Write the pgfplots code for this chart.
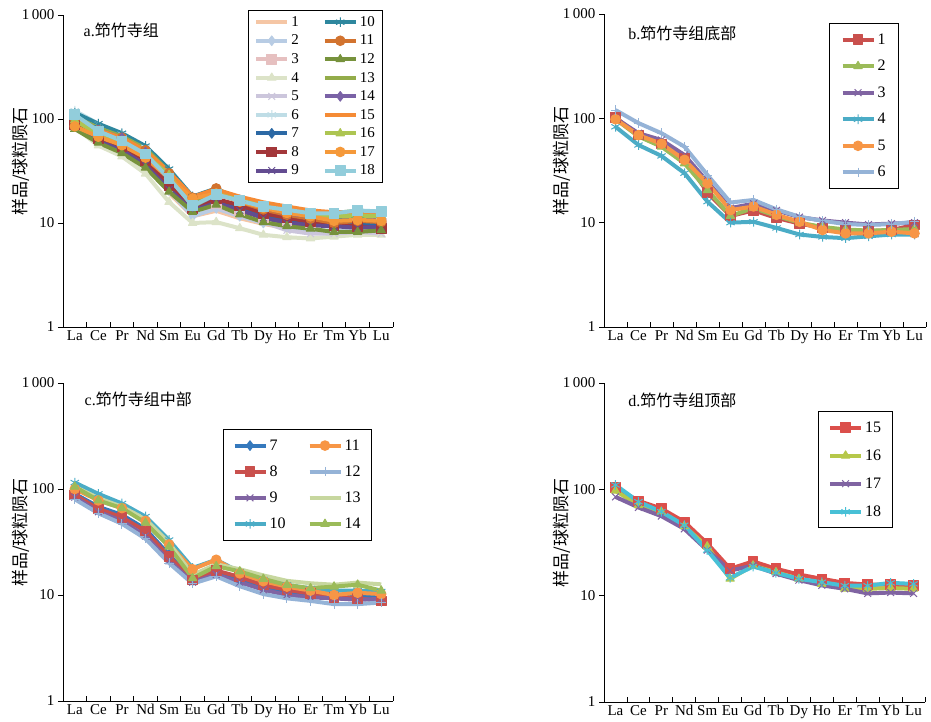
\documentclass[border=0pt]{standalone}
\usepackage{fontspec}
\setmainfont{Liberation Serif}
\newfontfamily\cjk{Noto Sans CJK SC}
\usepackage{pgfplots}
\usepackage{pgfplotstable}
\pgfplotsset{compat=1.18}
\usetikzlibrary{plotmarks}

% Samples 1-6 (bottom of formation)
\pgfplotstableread{
x el s1 s2 s3 s4 s5 s6
0 La 102 98 100 83 98 120
1 Ce 69 67 72 55.5 69 90
2 Pr 57 53.5 62 43.6 57 72
3 Nd 41.5 37 44.5 29.8 40 53.5
4 Sm 19.4 20.5 24.7 15.9 23.8 28.6
5 Eu 11.6 11.6 13.8 10.0 13.2 15.6
6 Gd 13.1 13.8 15.2 10.2 14.3 16.5
7 Tb 11.1 11.6 13.1 8.9 11.9 13.4
8 Dy 9.8 10.0 11.3 7.7 10.2 11.4
9 Ho 8.9 9.1 10.5 7.3 8.5 10.4
10 Er 8.4 8.6 10.0 7.1 7.9 9.7
11 Tm 8.3 8.4 9.6 7.4 7.9 9.5
12 Yb 8.5 8.5 9.8 7.7 8.2 9.7
13 Lu 9.5 8.7 10.0 7.7 7.9 10.2
}\tabB
% Samples 7-14 (middle)
\pgfplotstableread{
x el s7 s8 s9 s10 s11 s12 s13 s14
0 La 90 88 84 115 100 80 105 105
1 Ce 68 65 61 90 78 59 82 78
2 Pr 57 54 50 73 66 47 68 66
3 Nd 42 40 36 55 50 34 52 48
4 Sm 24 23 21 33 30 20 31 28.5
5 Eu 14 13.8 13.2 18 17.5 12.8 15.5 14.4
6 Gd 17 17 15.6 21.5 21.5 15 19.5 18.7
7 Tb 14 14.8 13.2 16.5 16 12.1 17.5 16.7
8 Dy 12 12.4 11.2 14 13.5 10.2 15.3 14.2
9 Ho 10.8 11.2 10.0 12.5 12 9.3 13.6 12.4
10 Er 10.2 10.3 9.5 11.5 11 8.8 12.9 11.6
11 Tm 9.7 9.5 9.3 11 10 8.2 12.5 12.0
12 Yb 9.8 9.3 9.0 11 10.5 8.2 13.1 12.5
13 Lu 9.5 8.8 9.2 10.8 10.2 8.5 12.6 11.0
}\tabC
% Samples 15-18 (top)
\pgfplotstableread{
x el s15 s16 s17 s18
0 La 104 97 85 110
1 Ce 78 71 67.6 76.5
2 Pr 66 61.6 56 61.6
3 Nd 49.5 45 42.5 46
4 Sm 31 29 26.8 26.8
5 Eu 17.9 14.4 17.2 14.7
6 Gd 21 19.2 19.2 18.8
7 Tb 17.9 16.6 16.1 16.4
8 Dy 15.8 14.4 14.0 14.4
9 Ho 14.4 12.9 12.5 13.4
10 Er 13.2 11.6 11.6 12.4
11 Tm 12.7 11.6 10.5 12.4
12 Yb 12.7 11.8 10.7 13.2
13 Lu 12.4 11.6 10.5 12.9
}\tabD

% panel a colours
\definecolor{a1}{HTML}{F5C6A5}
\definecolor{a2}{HTML}{B8CCE4}
\definecolor{a3}{HTML}{E6C0C0}
\definecolor{a4}{HTML}{DCE3C8}
\definecolor{a5}{HTML}{CCC6DC}
\definecolor{a6}{HTML}{BFDDE6}
\definecolor{a7}{HTML}{2C69A5}
\definecolor{a8}{HTML}{A3373A}
\definecolor{a9}{HTML}{634C91}
\definecolor{a10}{HTML}{2E879E}
\definecolor{a11}{HTML}{D2732F}
\definecolor{a12}{HTML}{77923C}
\definecolor{a13}{HTML}{93AC4A}
\definecolor{a14}{HTML}{7A62A6}
\definecolor{a15}{HTML}{F58B35}
\definecolor{a16}{HTML}{ADC552}
\definecolor{a17}{HTML}{F5993A}
\definecolor{a18}{HTML}{92CDDB}
% other panels
\definecolor{cred}{HTML}{C9504D}
\definecolor{cgreen}{HTML}{9BBB59}
\definecolor{cpurple}{HTML}{8064A2}
\definecolor{cteal}{HTML}{4BACC6}
\definecolor{corange}{HTML}{F79646}
\definecolor{clblue}{HTML}{95B3D7}
\definecolor{cblue}{HTML}{3579BD}
\definecolor{cpale}{HTML}{C7D79F}
\definecolor{dred}{HTML}{DB4F4B}
\definecolor{dyg}{HTML}{B6C84A}
\definecolor{dcyan}{HTML}{48C0D6}

\pgfplotsset{
  legend image code/.code={
    \draw[mark repeat=2,mark phase=2,#1] plot coordinates {(0pt,0pt) (15.5pt,0pt) (31pt,0pt)};
  },
  every axis/.append style={
    scale only axis,
    xmin=-0.5, xmax=13.5,
    axis lines=left,
    axis line style={-, line width=0.9pt, black},
    xtick={0,...,13},
    xticklabels={La,Ce,Pr,Nd,Sm,Eu,Gd,Tb,Dy,Ho,Er,Tm,Yb,Lu},
    major x tick style={draw=none},
    minor xtick={0.5,1.5,...,13.5},
    xtick align=inside,
    ytick align=outside,
    minor tick length=5pt,
    major tick length=5pt,
    tick style={black, line width=0.8pt},
    yminorticks=false,
    ytick={1,10,100,1000},
    yticklabels={1,10,100,1\,000},
    tick label style={font=\fontsize{15}{17}\selectfont},
    ylabel={\cjk 样品/球粒陨石},
    legend cell align=left,
  },
  every axis y label/.style={at={(axis description cs:0,0.53)}, xshift=-42pt, rotate=90, anchor=center, font=\fontsize{17}{19}\selectfont},
  ree/.style={line width=4pt, line join=round, mark size=4.8pt, mark options={solid, line width=1pt}},
}
\newcommand\pl[5]{\addplot[ree,color=#1,mark=#2] table[x=x,y=#4]{#3}; \addlegendentry{#5}}

\begin{document}
\begin{tikzpicture}
\path[use as bounding box] (0,0) rectangle (931pt,721pt);

% ---------- panel a ----------
\begin{axis}[ymode=log, ymin=1, ymax=1000, at={(63pt,394pt)}, anchor=south west, width=330pt, height=312pt,
  legend columns=9, transpose legend,
  legend style={at={(axis description cs:0.56,1.016)}, anchor=north west, draw=black, line width=0.9pt,
    font=\fontsize{15}{17}\selectfont, row sep=3.1pt, inner xsep=6pt, inner ysep=4pt,
    /tikz/every even column/.append style={column sep=22pt}},
]
\pl{a1}{none}{\tabB}{s1}{1}
\pl{a2}{diamond*}{\tabB}{s2}{2}
\pl{a3}{square*}{\tabB}{s3}{3}
\pl{a4}{triangle*}{\tabB}{s4}{4}
\pl{a5}{x}{\tabB}{s5}{5}
\pl{a6}{asterisk}{\tabB}{s6}{6}
\pl{a7}{diamond*}{\tabC}{s7}{7}
\pl{a8}{square*}{\tabC}{s8}{8}
\pl{a9}{x}{\tabC}{s9}{9}
\pl{a10}{asterisk}{\tabC}{s10}{10}
\pl{a11}{*}{\tabC}{s11}{11}
\pl{a12}{triangle*}{\tabC}{s12}{12}
\pl{a13}{none}{\tabC}{s13}{13}
\pl{a14}{diamond*}{\tabC}{s14}{14}
\pl{a15}{none}{\tabD}{s15}{15}
\pl{a16}{triangle*}{\tabD}{s16}{16}
\pl{a17}{*}{\tabD}{s17}{17}
\pl{a18}{square*}{\tabD}{s18}{18}
\node[anchor=west, font=\fontsize{16}{18}\selectfont] at (axis description cs:0.052,0.952) {a.{\cjk 笻竹寺组}};
\end{axis}

% ---------- panel b ----------
\begin{axis}[ymode=log, ymin=1, ymax=1000, at={(604pt,394pt)}, anchor=south west, width=322pt, height=313pt,
  legend style={at={(axis description cs:0.699,0.971)}, anchor=north west, draw=black, line width=0.9pt,
    font=\fontsize{16}{18}\selectfont, row sep=10.5pt, inner xsep=11pt, inner ysep=8pt},
]
\pl{cred}{square*}{\tabB}{s1}{1}
\pl{cgreen}{triangle*}{\tabB}{s2}{2}
\pl{cpurple}{x}{\tabB}{s3}{3}
\pl{cteal}{asterisk}{\tabB}{s4}{4}
\pl{corange}{*}{\tabB}{s5}{5}
\pl{clblue}{+}{\tabB}{s6}{6}
\node[anchor=west, font=\fontsize{16}{18}\selectfont] at (axis description cs:0.065,0.939) {b.{\cjk 笻竹寺组底部}};
\end{axis}

% ---------- panel c ----------
\begin{axis}[ymode=log, ymin=1, ymax=1000, at={(63pt,20pt)}, anchor=south west, width=330pt, height=318pt,
  legend columns=4, transpose legend,
  legend style={at={(axis description cs:0.485,0.855)}, anchor=north west, draw=black, line width=0.9pt,
    font=\fontsize{16}{18}\selectfont, row sep=10pt, inner xsep=9pt, inner ysep=8pt,
    /tikz/every even column/.append style={column sep=20pt}},
]
\pl{cblue}{diamond*}{\tabC}{s7}{7}
\pl{cred}{square*}{\tabC}{s8}{8}
\pl{cpurple}{x}{\tabC}{s9}{9}
\pl{cteal}{asterisk}{\tabC}{s10}{10}
\pl{corange}{*}{\tabC}{s11}{11}
\pl{clblue}{+}{\tabC}{s12}{12}
\pl{cpale}{none}{\tabC}{s13}{13}
\pl{cgreen}{triangle*}{\tabC}{s14}{14}
\node[anchor=west, font=\fontsize{16}{18}\selectfont] at (axis description cs:0.055,0.95) {c.{\cjk 笻竹寺组中部}};
\end{axis}

% ---------- panel d ----------
\begin{axis}[ymode=log, ymin=1, ymax=1000, at={(604pt,19pt)}, anchor=south west, width=321pt, height=319pt,
  legend style={at={(axis description cs:0.667,0.912)}, anchor=north west, draw=black, line width=0.9pt,
    font=\fontsize{16}{18}\selectfont, row sep=12pt, inner xsep=9.5pt, inner ysep=8pt},
]
\pl{dred}{square*}{\tabD}{s15}{15}
\pl{dyg}{triangle*}{\tabD}{s16}{16}
\pl{cpurple}{x}{\tabD}{s17}{17}
\pl{dcyan}{asterisk}{\tabD}{s18}{18}
\node[anchor=west, font=\fontsize{16}{18}\selectfont] at (axis description cs:0.065,0.947) {d.{\cjk 笻竹寺组顶部}};
\end{axis}
\end{tikzpicture}
\end{document}
